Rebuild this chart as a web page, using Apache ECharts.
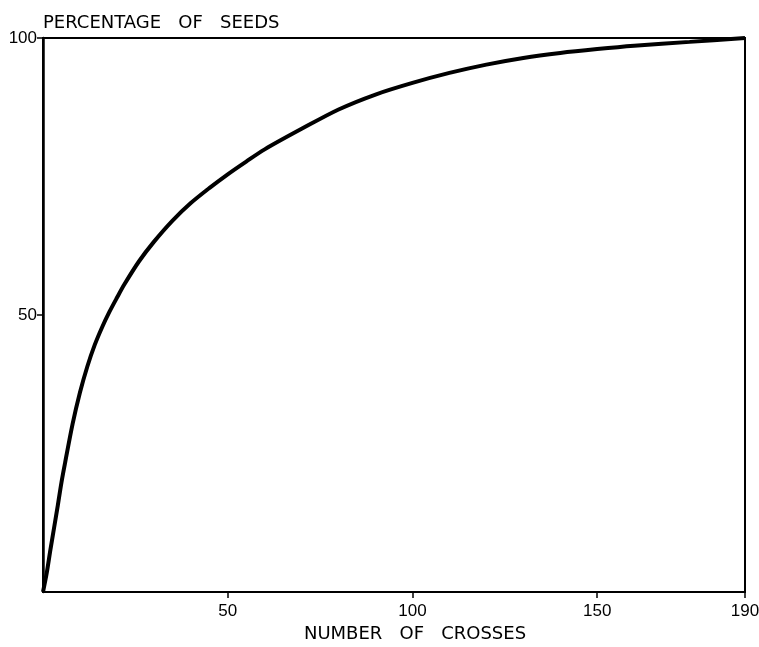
<!DOCTYPE html>
<html>
<head>
<meta charset="utf-8">
<script src="https://cdn.jsdelivr.net/npm/echarts@6/dist/echarts.min.js"></script>
<style>html,body{margin:0;padding:0;background:#fff}#c{width:759px;height:647px}</style>
</head>
<body>
<div id="c"></div>
<script>
const crosses = [0, 1, 2, 3, 4, 5, 6, 8, 10, 12, 14, 16, 18, 20, 22, 26, 30, 35, 40, 45, 50, 55, 60, 70, 80, 90, 100, 110, 120, 130, 140, 150, 160, 175, 190];
const seedsPct = [0, 3.4, 7.6, 11.6, 15.6, 19.8, 23.4, 30.3, 36, 40.7, 44.6, 47.8, 50.6, 53.1, 55.5, 59.7, 63.2, 67, 70.2, 72.9, 75.4, 77.7, 79.9, 83.6, 87.1, 89.8, 91.9, 93.7, 95.2, 96.4, 97.3, 98, 98.6, 99.3, 100];
const xTicks = [50, 100, 150, 190];
const yTicks = [50, 100];
const xTitle = 'NUMBER   OF   CROSSES';
const yTitle = 'PERCENTAGE   OF   SEEDS';

const font = 'DejaVu Sans';
const numFont = 'Liberation Sans';
const chart = echarts.init(document.getElementById('c'), null, {renderer: 'canvas'});
chart.setOption({
  animation: false,
  backgroundColor: '#fff',
  title: {
    text: yTitle, left: 38, top: 9,
    textStyle: {fontFamily: font, fontSize: 18, fontWeight: 'normal', color: '#000'}
  },
  grid: {left: 43, right: 14, top: 38, bottom: 55, outerBoundsMode: 'none', containLabel: false,
    show: true, borderColor: '#000', borderWidth: 2, backgroundColor: 'transparent'},
  xAxis: {
    type: 'value', min: 0, max: 190,
    name: xTitle, nameLocation: 'middle', nameGap: 31,
    nameTextStyle: {fontFamily: font, fontSize: 18, color: '#000', padding: [0, 0, 0, 42]},
    axisLine: {show: true, lineStyle: {color: '#000', width: 2}},
    axisTick: {show: true, customValues: xTicks, length: 6, inside: false, lineStyle: {color: '#000', width: 1.5}},
    axisLabel: {customValues: xTicks, margin: 11, fontFamily: numFont, fontSize: 17, color: '#000'},
    splitLine: {show: false}
  },
  yAxis: {
    type: 'value', min: 0, max: 100,
    axisLine: {show: true, lineStyle: {color: '#000', width: 2.5}},
    axisTick: {show: true, customValues: yTicks, length: 6, inside: false, lineStyle: {color: '#000', width: 1.5}},
    axisLabel: {customValues: yTicks, margin: 6, fontFamily: numFont, fontSize: 17, color: '#000'},
    splitLine: {show: false}
  },
  series: [{
    type: 'line',
    data: crosses.map((x, i) => [x, seedsPct[i]]),
    smooth: 0.3,
    showSymbol: false,
    lineStyle: {color: '#000', width: 4}
  }]
});
</script>
</body>
</html>
